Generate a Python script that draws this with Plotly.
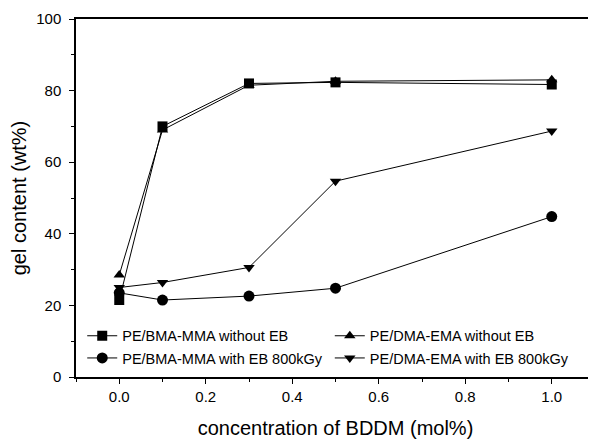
import plotly.graph_objects as go

x_conc = [0.0, 0.1, 0.3, 0.5, 1.0]
bma_without = [21.5, 70.0, 82.0, 82.3, 81.7]
dma_without = [28.5, 69.0, 81.5, 82.6, 83.0]
bma_with = [23.5, 21.5, 22.6, 24.8, 44.8]
dma_with = [25.0, 26.4, 30.6, 54.7, 68.7]

series = [
    ("PE/BMA-MMA without EB", bma_without, "square", "legend"),
    ("PE/DMA-EMA without EB", dma_without, "triangle-up", "legend2"),
    ("PE/BMA-MMA with EB 800kGy", bma_with, "circle", "legend3"),
    ("PE/DMA-EMA with EB 800kGy", dma_with, "triangle-down", "legend4"),
]

font = "Liberation Sans, Arial, sans-serif"

fig = go.Figure()
for name, vals, sym, lg in series:
    fig.add_trace(go.Scatter(
        x=x_conc, y=vals, name=name, mode="lines+markers", legend=lg,
        showlegend=True,
        line=dict(color="black", width=1),
        marker=dict(symbol=sym, size=10 if sym != "circle" else 11, color="black"),
    ))

axis_common = dict(
    showline=True, linecolor="black", linewidth=1.5, mirror=True,
    ticks="outside", ticklen=5, tickwidth=1.2, tickcolor="black",
    showgrid=False, zeroline=False,
    tickfont=dict(family=font, size=15, color="black"),
    minor=dict(ticks="outside", ticklen=3, tickcolor="black"),
)
fig.update_xaxes(range=[-0.1, 1.1], tickvals=[0.0, 0.2, 0.4, 0.6, 0.8, 1.0],
                 ticktext=["0.0", "0.2", "0.4", "0.6", "0.8", "1.0"],
                 minor_dtick=0.1,
                 title=dict(text="concentration of BDDM (mol%)", font=dict(family=font, size=20, color="black"), standoff=17),
                 **axis_common)
fig.update_yaxes(range=[0, 100], dtick=20, minor_dtick=10, ticklabelstandoff=5,
                 title=dict(text="gel content (wt%)", font=dict(family=font, size=20, color="black"), standoff=22),
                 **axis_common)

leg_common = dict(xanchor="left", yanchor="middle", bgcolor="rgba(0,0,0,0)",
                  font=dict(family=font, size=14.5, color="black"), itemwidth=30)
fig.update_layout(
    width=588, height=433,
    margin=dict(l=68, r=1, t=11, b=64, autoexpand=False),
    showlegend=True,
    plot_bgcolor="white", paper_bgcolor="white",
    legend=dict(x=0.012, y=0.115, **leg_common),
    legend2=dict(x=0.489, y=0.115, **leg_common),
    legend3=dict(x=0.012, y=0.053, **leg_common),
    legend4=dict(x=0.489, y=0.053, **leg_common),
)
fig.write_html("out.html")
